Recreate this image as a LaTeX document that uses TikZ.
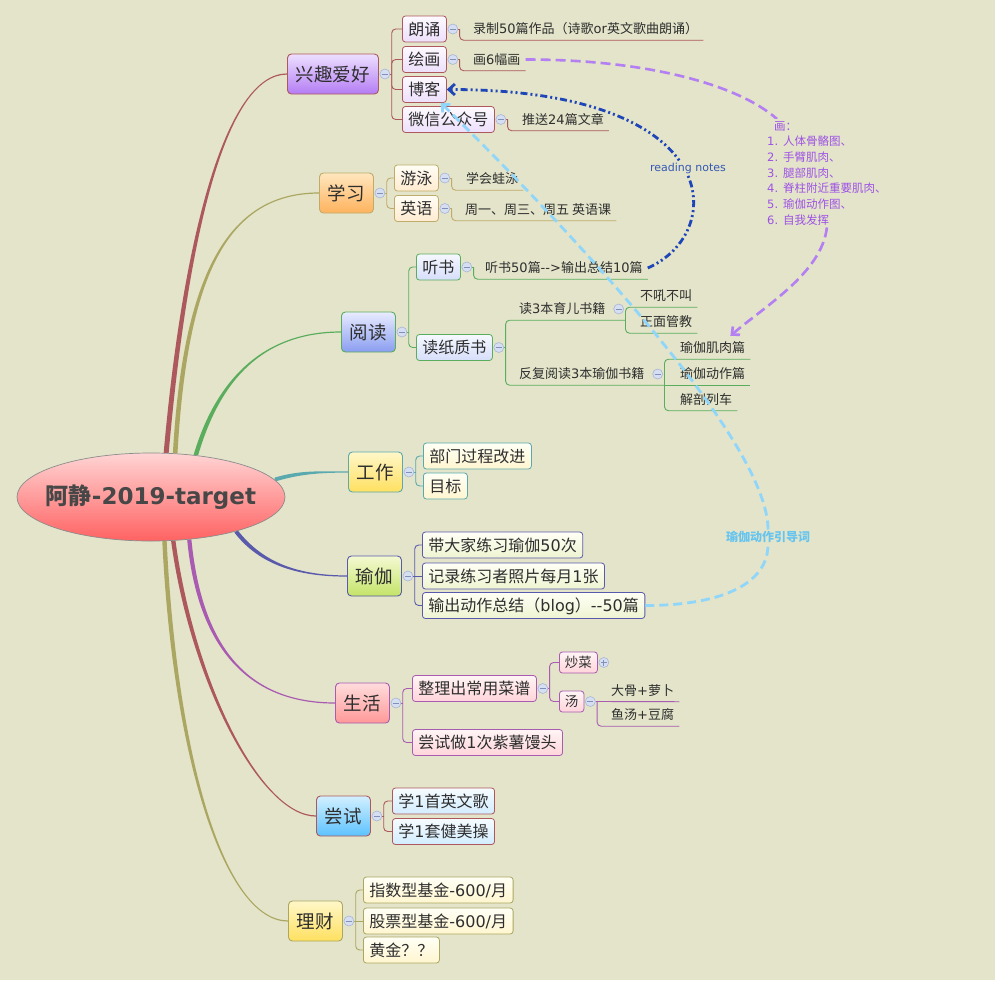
\documentclass[tikz,border=0pt]{standalone}
\usepackage{fontspec}
\setmainfont{DejaVu Sans}
\newfontfamily\cjkfont{Noto Sans CJK SC}
\newfontfamily\latinfont{DejaVu Sans}
\usetikzlibrary{shapes.geometric,calc,arrows.meta}
\pgfdeclarelayer{bg}
\pgfdeclarelayer{rel}
\pgfdeclarelayer{top}
\pgfsetlayers{bg,main,rel,top}
% automatic CJK font switching
\XeTeXinterchartokenstate=1
\chardef\cjkcls=7
\newcount\cjkcnt
\cjkcnt="3000
\loop \XeTeXcharclass\cjkcnt=\cjkcls \advance\cjkcnt by 1 \ifnum\cjkcnt<"A000 \repeat
\cjkcnt="FF00
\loop \XeTeXcharclass\cjkcnt=\cjkcls \advance\cjkcnt by 1 \ifnum\cjkcnt<"FFF0 \repeat
\XeTeXinterchartoks 0 \cjkcls={\cjkfont}
\XeTeXinterchartoks 4095 \cjkcls={\cjkfont}
\XeTeXinterchartoks \cjkcls 0={\latinfont}
\XeTeXinterchartoks 4095 0={\latinfont}
\newcommand\dd{-\kern0pt-}
% colours
\definecolor{bgc}{HTML}{E3E4C9}
\definecolor{txtc}{HTML}{2E2E2E}
\definecolor{roottxt}{HTML}{474747}
\definecolor{rootb}{HTML}{8C8C8C}
\definecolor{rootT}{HTML}{FFD4D4}
\definecolor{rootB}{HTML}{FF6262}
\definecolor{brnc}{HTML}{AD585D}
\definecolor{olvc}{HTML}{ABA762}
\definecolor{grnc}{HTML}{5BAD5E}
\definecolor{tealc}{HTML}{5AA9AE}
\definecolor{bluc}{HTML}{5A5AAC}
\definecolor{prpc}{HTML}{A95BB2}
\definecolor{tanc}{HTML}{C0AC6A}
\definecolor{purT}{HTML}{EDE0FF}\definecolor{purB}{HTML}{B47CF4}
\definecolor{purST}{HTML}{FDFAFF}\definecolor{purSB}{HTML}{ECDFFB}
\definecolor{oraT}{HTML}{FFE6BE}\definecolor{oraB}{HTML}{FFB35E}
\definecolor{oraST}{HTML}{FFFDF5}\definecolor{oraSB}{HTML}{FFEBD0}
\definecolor{bluT}{HTML}{E8ECFF}\definecolor{bluB}{HTML}{8A9DF0}
\definecolor{bluST}{HTML}{F6F8FF}\definecolor{bluSB}{HTML}{D6DEFA}
\definecolor{yelT}{HTML}{FFF7C8}\definecolor{yelB}{HTML}{FFE060}
\definecolor{yelST}{HTML}{FFFFF5}\definecolor{yelSB}{HTML}{FFF5CF}
\definecolor{grnT}{HTML}{F4F9D2}\definecolor{grnB}{HTML}{C4E468}
\definecolor{grnST}{HTML}{FFFFF5}\definecolor{grnSB}{HTML}{EEF4D2}
\definecolor{pnkT}{HTML}{FFDCDC}\definecolor{pnkB}{HTML}{FF9898}
\definecolor{pnkST}{HTML}{FFF5F5}\definecolor{pnkSB}{HTML}{FFD4DA}
\definecolor{cynT}{HTML}{D2F0FF}\definecolor{cynB}{HTML}{5CC2FF}
\definecolor{cynST}{HTML}{F6FCFF}\definecolor{cynSB}{HTML}{D2ECFF}
\definecolor{collf}{HTML}{D6DEF2}
\definecolor{collb}{HTML}{A8B6D6}
\definecolor{collm}{HTML}{8090B8}
\definecolor{relbluc}{HTML}{1F46B8}
\definecolor{relpurc}{HTML}{B37FF3}
\definecolor{relcync}{HTML}{8FD6FA}
\definecolor{rnc}{HTML}{3558B5}
\definecolor{huac}{HTML}{9E52E6}
\definecolor{ylc}{HTML}{66C4F0}
% tapered main branch: colour, start, ctrl1, ctrl2, end node, right-hand offset x,y
\newcommand\branch[7]{\fill[#1] ($(#2)+(#6,#7)$) .. controls ($(#3)+(#6,#7)$) and ($(#4)+(0,0.6)$) .. ($(#5.west)+(0,0.6)$) -- ($(#5.west)+(0,-0.6)$) .. controls ($(#4)+(0,-0.6)$) and ($(#3)-(#6,#7)$) .. ($(#2)-(#6,#7)$) -- cycle;}
% elbow connector from a collapse circle to a target point
\newcommand\elbow[3]{\draw[ln=#1] (#2.east) -- ++(1.5,0); \draw[ln=#1, rounded corners=4pt] ($(#2.east)+(1.5,0)$) |- (#3);}
\begin{document}
\begin{tikzpicture}[x=1pt, y=-1pt,
  topic/.style n args={3}{draw=#1, top color=#2, bottom color=#3, rounded corners=4pt, line width=0.9pt, minimum height=40pt, inner xsep=8.5pt, inner ysep=0pt, text height=16.3pt, text depth=2.2pt, font=\fontsize{18.5}{21}\selectfont, text=txtc, anchor=west},
  sub/.style n args={3}{draw=#1, top color=#2, bottom color=#3, rounded corners=3pt, line width=0.8pt, minimum height=26pt, inner xsep=6pt, inner ysep=0pt, text height=14.1pt, text depth=1.9pt, font=\fontsize{16}{18}\selectfont, text=txtc, anchor=west},
  smallbox/.style n args={3}{draw=#1, top color=#2, bottom color=#3, rounded corners=3pt, line width=0.8pt, minimum height=21pt, inner xsep=5.5pt, inner ysep=0pt, text height=11.9pt, text depth=1.6pt, font=\fontsize{13.5}{15}\selectfont, text=txtc, anchor=west},
  leaf/.style={anchor=west, inner xsep=5pt, inner ysep=4.5pt, text height=11.4pt, text depth=1.6pt, font=\fontsize{13}{15}\selectfont, text=txtc},
  coll/.style={circle, draw=collb, fill=collf, minimum size=10pt, inner sep=0pt, line width=0.6pt, path picture={\draw[collm, line width=0.9pt] ([xshift=-3pt]path picture bounding box.center) -- ([xshift=3pt]path picture bounding box.center);}},
  collplus/.style={circle, draw=collb, fill=collf, minimum size=10pt, inner sep=0pt, line width=0.6pt, path picture={\draw[collm, line width=0.9pt] ([xshift=-3pt]path picture bounding box.center) -- ([xshift=3pt]path picture bounding box.center) ([yshift=-3pt]path picture bounding box.center) -- ([yshift=3pt]path picture bounding box.center);}},
  ln/.style={draw=#1, line width=0.9pt},
  relblu/.style={draw=relbluc, line width=2.8pt, dash pattern=on 7pt off 3pt on 2pt off 3pt on 2pt off 3pt},
  relpur/.style={draw=relpurc, line width=2.6pt, dash pattern=on 10pt off 5pt},
  relcyn/.style={draw=relcync, line width=2.8pt, dash pattern=on 9pt off 5pt},
  barb/.style={-{Straight Barb[length=6pt,width=11pt]}},
  rlabel/.style={fill=bgc, inner sep=1.5pt}
]
\useasboundingbox (0,0) rectangle (995,980);
\begin{pgfonlayer}{bg}
\fill[bgc] (0,0) rectangle (995,980);
\end{pgfonlayer}

% ---------- root ----------
\node[ellipse, draw=rootb, line width=0.7pt, top color=rootT, bottom color=rootB, minimum width=268pt, minimum height=88pt, inner sep=0pt] (root) at (151,497) {};
\node[font=\fontsize{23}{26}\selectfont\bfseries, text=roottxt, inner sep=0pt] (rootlabel) at (root.center) {阿静-2019-target};

% ---------- main topics ----------
\node[topic={brnc}{purT}{purB}] (t1) at (287,74) {兴趣爱好};
\node[topic={tanc}{oraT}{oraB}] (t2) at (319,193) {学习};
\node[topic={grnc}{bluT}{bluB}] (t3) at (341,332) {阅读};
\node[topic={tealc}{yelT}{yelB}] (t4) at (348,472) {工作};
\node[topic={bluc}{grnT}{grnB}] (t5) at (347,576) {瑜伽};
\node[topic={prpc}{pnkT}{pnkB}] (t6) at (335,703) {生活};
\node[topic={brnc}{cynT}{cynB}] (t7) at (316,816) {尝试};
\node[topic={olvc}{yelT}{yelB}] (t8) at (288,921) {理财};
\foreach \t in {t1,t2,t3,t4,t5,t6,t7,t8}{\node[coll] (\t c) at ($(\t.east)+(6,0)$) {};}

% ---------- sub topics ----------
\node[sub={brnc}{purST}{purSB}] (s1) at (402,29) {朗诵};
\node[sub={brnc}{purST}{purSB}] (s2) at (402,59.5) {绘画};
\node[sub={brnc}{purST}{purSB}] (s3) at (402,89.5) {博客};
\node[sub={brnc}{purST}{purSB}] (s4) at (402,119.5) {微信公众号};
\node[sub={tanc}{oraST}{oraSB}] (x1) at (394,178) {游泳};
\node[sub={tanc}{oraST}{oraSB}] (x2) at (394,208.5) {英语};
\node[sub={grnc}{bluST}{bluSB}] (r1) at (416,267) {听书};
\node[sub={grnc}{bluST}{bluSB}] (r2) at (416,347.5) {读纸质书};
\node[sub={tealc}{yelST}{yelSB}] (w1) at (423,456) {部门过程改进};
\node[sub={tealc}{yelST}{yelSB}] (w2) at (423,486) {目标};
\node[sub={bluc}{grnST}{grnSB}] (y1) at (422,545) {带大家练习瑜伽50次};
\node[sub={bluc}{grnST}{grnSB}] (y2) at (422,576) {记录练习者照片每月1张};
\node[sub={bluc}{grnST}{grnSB}] (y3) at (422,605.5) {输出动作总结（blog）\dd50篇};
\node[sub={prpc}{pnkST}{pnkSB}] (h1) at (412,688.5) {整理出常用菜谱};
\node[sub={prpc}{pnkST}{pnkSB}] (h2) at (412,742.5) {尝试做1次紫薯馒头};
\node[sub={brnc}{cynST}{cynSB}] (k1) at (392,801) {学1首英文歌};
\node[sub={brnc}{cynST}{cynSB}] (k2) at (392,831.5) {学1套健美操};
\node[sub={olvc}{yelST}{yelSB}] (m1) at (363,890) {指数型基金-600/月};
\node[sub={olvc}{yelST}{yelSB}] (m2) at (363,921) {股票型基金-600/月};
\node[sub={olvc}{yelST}{yelSB}] (m3) at (363,950) {黄金？？};
\node[smallbox={prpc}{pnkST}{pnkSB}] (cc) at (559,662.5) {炒菜};
\node[smallbox={prpc}{pnkST}{pnkSB}] (tg) at (559,701.5) {汤};
\foreach \s in {s1,s2,s4,x1,x2,r1,r2,h1,tg}{\node[coll] (\s c) at ($(\s.east)+(6,0)$) {};}
\node[collplus] (ccc) at ($(cc.east)+(6,0)$) {};

% ---------- leaves ----------
\node[leaf] (l1) at (468,29) {录制50篇作品（诗歌or英文歌曲朗诵）};
\node[leaf] (l2) at (468,59.5) {画6幅画};
\node[leaf] (l3) at (517,119.5) {推送24篇文章};
\node[leaf] (l4) at (461,179) {学会蛙泳};
\node[leaf] (l5) at (460,209.5) {周一、周三、周五 英语课};
\node[leaf] (l6) at (480,268) {听书50篇\dd>输出总结10篇};
\node[leaf] (l7) at (514,309) {读3本育儿书籍};
\node[leaf] (l8) at (635,296) {不吼不叫};
\node[leaf] (l9) at (635,322) {正面管教};
\node[leaf] (l10) at (514,374) {反复阅读3本瑜伽书籍};
\node[leaf] (l11) at (675,348) {瑜伽肌肉篇};
\node[leaf] (l12) at (675,374) {瑜伽动作篇};
\node[leaf] (l13) at (675,399.5) {解剖列车};
\node[leaf] (l14) at (606,690.5) {大骨+萝卜};
\node[leaf] (l15) at (606,715) {鱼汤+豆腐};
\node[coll] (c7) at ($(l7.east)+(8,0)$) {};
\node[coll] (c10) at ($(l10.east)+(8,0)$) {};
\coordinate (b7) at ($(c7.east |- l7.south)+(1.5,0)$);
\coordinate (b10) at ($(c10.east |- l10.south)+(1.5,0)$);

% ---------- relationship labels ----------
\begin{pgfonlayer}{top}
\node[rlabel, text=rnc, font=\fontsize{11}{13}\selectfont] (rn) at (688,168) {reading notes};
\node[rlabel, anchor=north west, inner sep=2pt, align=left, text=huac, font=\fontsize{11.5}{15.7}\selectfont] (hua) at (765,119) {\hspace*{7pt}画：\\1. 人体骨骼图、\\2. 手臂肌肉、\\3. 腿部肌肉、\\4. 脊柱附近重要肌肉、\\5. 瑜伽动作图、\\6. 自我发挥};
\node[rlabel, text=ylc, font=\fontsize{12}{14}\selectfont\bfseries] (yl) at (768,537) {瑜伽动作引导词};
\end{pgfonlayer}

% ---------- connectors ----------
\begin{pgfonlayer}{bg}
\branch{brnc}{root.71}{185,240}{225,74}{t1}{2.5}{0}
\branch{olvc}{root.61}{185,280}{225,193}{t2}{2.3}{0}
\branch{grnc}{root.43}{215,390}{255,332}{t3}{2.3}{0}
\branch{tealc}{root.8}{300,472}{320,472}{t4}{0}{2.0}
\branch{bluc}{root.-22}{262,565}{300,576}{t5}{-1.6}{1.2}
\branch{prpc}{root.-48}{200,650}{250,703}{t6}{-2.1}{0.2}
\branch{brnc}{root.-63}{192,680}{260,816}{t7}{-2.2}{0}
\branch{olvc}{root.-73}{175,760}{225,921}{t8}{-2.2}{0}
% topic -> subtopics
\elbow{brnc}{t1c}{s1.west}\elbow{brnc}{t1c}{s2.west}\elbow{brnc}{t1c}{s3.west}\elbow{brnc}{t1c}{s4.west}
\elbow{tanc}{t2c}{x1.west}\elbow{tanc}{t2c}{x2.west}
\elbow{grnc}{t3c}{r1.west}\elbow{grnc}{t3c}{r2.west}
\elbow{tealc}{t4c}{w1.west}\elbow{tealc}{t4c}{w2.west}
\elbow{bluc}{t5c}{y1.west}\draw[ln=bluc] (t5c.east) -- (y2.west);\elbow{bluc}{t5c}{y3.west}
\elbow{prpc}{t6c}{h1.west}\elbow{prpc}{t6c}{h2.west}
\elbow{brnc}{t7c}{k1.west}\elbow{brnc}{t7c}{k2.west}
\elbow{olvc}{t8c}{m1.west}\draw[ln=olvc] (t8c.east) -- (m2.west);\elbow{olvc}{t8c}{m3.west}
\elbow{prpc}{h1c}{cc.west}\elbow{prpc}{h1c}{tg.west}
% subtopic -> leaves (underlines)
\elbow{brnc}{s1c}{l1.south east}
\elbow{brnc}{s2c}{l2.south east}
\elbow{brnc}{s4c}{l3.south east}
\elbow{tanc}{x1c}{l4.south east}
\elbow{tanc}{x2c}{l5.south east}
\elbow{grnc}{r1c}{l6.south east}
\elbow{grnc}{r2c}{b7}
\elbow{grnc}{r2c}{b10}
\draw[ln=grnc, rounded corners=4pt] (b7) |- (l8.south east);
\draw[ln=grnc, rounded corners=4pt] (b7) |- (l9.south east);
\draw[ln=grnc, rounded corners=4pt] (b10) |- (l11.south east);
\draw[ln=grnc] (b10) -- (l12.south east);
\draw[ln=grnc, rounded corners=4pt] (b10) |- (l13.south east);
\draw[ln=prpc] (tgc.east) -- (l14.south east);
\elbow{prpc}{tgc}{l15.south east}
\end{pgfonlayer}

% ---------- relationships ----------
\begin{pgfonlayer}{rel}
\draw[relblu, barb] (l6.east) .. controls +(80,-35) and +(280,0) .. (s3.east);
\draw[relpur] (l2.east) .. controls +(120,0) and +(-40,-35) .. ($(hua.north west)+(12,0)$);
\draw[relpur, barb] (hua.south) .. controls +(-5,45) and +(35,-30) .. ($(l11.north east)+(-20,-1)$);
\draw[relcyn] (y3.east) .. controls +(75,0) and +(0,40) .. (yl.south);
\draw[relcyn, barb] (yl.north) .. controls +(0,-90) and +(120,118) .. ($(s3.south east)+(-6,0)$);
\end{pgfonlayer}
\end{tikzpicture}
\end{document}
